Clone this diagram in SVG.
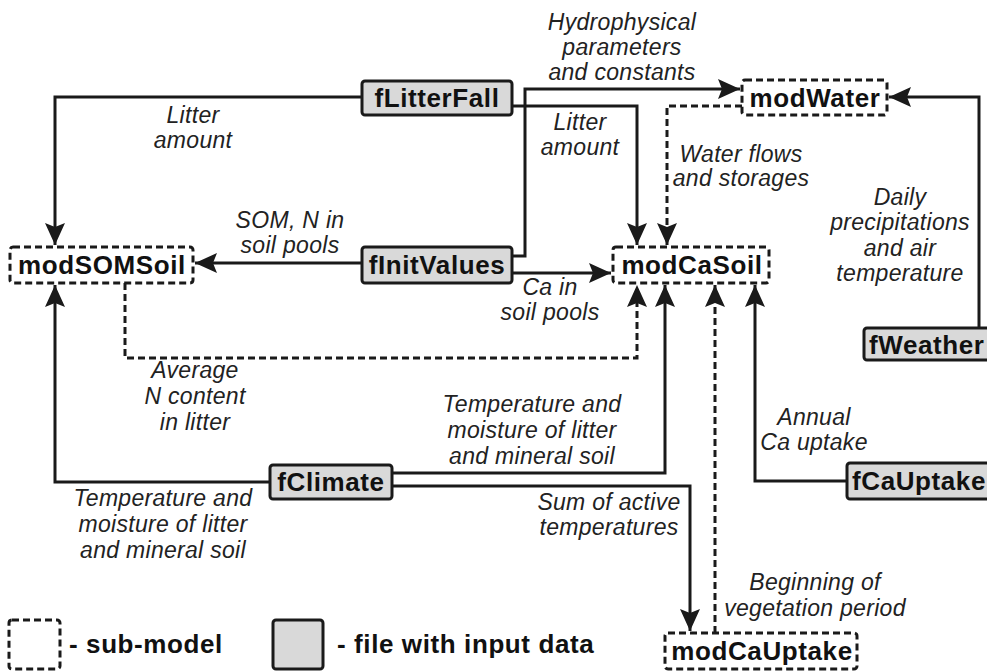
<svg xmlns="http://www.w3.org/2000/svg" width="987" height="671" viewBox="0 0 987 671">
<defs>
<style>
.file{fill:#d9d9d9;stroke:#1a1a1a;stroke-width:3}
.mod{fill:#fff;stroke:#1a1a1a;stroke-width:3;stroke-dasharray:7,4}
.name{font-family:"Liberation Sans",Arial,sans-serif;font-weight:bold;font-size:26px;letter-spacing:0.6px;fill:#111}
.lbl{font-family:"Liberation Sans",Arial,sans-serif;font-style:italic;font-size:23px;letter-spacing:0.3px;fill:#222;text-anchor:middle}
.c{fill:none;stroke:#1a1a1a;stroke-width:3}
.d{fill:none;stroke:#1a1a1a;stroke-width:3;stroke-dasharray:7,4}
</style>
<marker id="ah" markerUnits="userSpaceOnUse" markerWidth="24" markerHeight="22" refX="22" refY="10" orient="auto">
<path d="M0,0 L22,10 L0,20 L4,10 z" fill="#1a1a1a"/>
</marker>
</defs>
<rect width="987" height="671" fill="#fff"/>
<g id="connectors">
<path class="c" d="M362,97 H55 V245" marker-end="url(#ah)"/>
<path class="c" d="M512,106 H637 V245" marker-end="url(#ah)"/>
<path class="c" d="M512,256 H525 V89 H740" marker-end="url(#ah)"/>
<path class="c" d="M512,273 H611" marker-end="url(#ah)"/>
<path class="c" d="M362,263 H195" marker-end="url(#ah)"/>
<path class="d" d="M742,106 H667 V245" marker-end="url(#ah)"/>
<path class="c" d="M979,328 V97 H889" marker-end="url(#ah)"/>
<path class="d" d="M125,283 V358 H637 V285" marker-end="url(#ah)"/>
<path class="c" d="M270,482 H55 V285" marker-end="url(#ah)"/>
<path class="c" d="M392,473 H665 V285" marker-end="url(#ah)"/>
<path class="c" d="M392,486 H690 V631" marker-end="url(#ah)"/>
<path class="d" d="M715,633 V285" marker-end="url(#ah)"/>
<path class="c" d="M847,481 H755 V285" marker-end="url(#ah)"/>
</g>
<g id="fLitterFall"><rect class="file" x="362" y="81" width="150" height="34" rx="3"/><text class="name" x="437" y="107" text-anchor="middle">fLitterFall</text></g>
<g id="modWater"><rect class="mod" x="742" y="80" width="145" height="35" rx="3"/><text class="name" x="815" y="107" text-anchor="middle">modWater</text></g>
<g id="modSOMSoil"><rect class="mod" x="10" y="247" width="183" height="36" rx="3"/><text class="name" x="102" y="274" text-anchor="middle">modSOMSoil</text></g>
<g id="fInitValues"><rect class="file" x="362" y="247" width="150" height="36" rx="3"/><text class="name" x="437" y="274" text-anchor="middle">fInitValues</text></g>
<g id="modCaSoil"><rect class="mod" x="613" y="247" width="156" height="36" rx="3"/><text class="name" x="692" y="274" text-anchor="middle">modCaSoil</text></g>
<g id="fWeather"><rect class="file" x="864" y="328" width="130" height="32" rx="3"/><text class="name" x="869" y="354">fWeather</text></g>
<g id="fClimate"><rect class="file" x="270" y="465" width="122" height="34" rx="3"/><text class="name" x="331" y="491" text-anchor="middle">fClimate</text></g>
<g id="fCaUptake"><rect class="file" x="847" y="463" width="145" height="36" rx="3"/><text class="name" x="852" y="490">fCaUptake</text></g>
<g id="modCaUptake"><rect class="mod" x="665" y="633" width="192" height="36" rx="3"/><text class="name" x="762" y="660" text-anchor="middle">modCaUptake</text></g>
<g id="labels">
<text class="lbl" x="193" y="123">Litter</text><text class="lbl" x="193" y="148">amount</text>
<text class="lbl" x="622" y="30">Hydrophysical</text><text class="lbl" x="622" y="55">parameters</text><text class="lbl" x="622" y="80">and constants</text>
<text class="lbl" x="580" y="130">Litter</text><text class="lbl" x="580" y="155">amount</text>
<text class="lbl" x="741" y="162">Water flows</text><text class="lbl" x="741" y="186">and storages</text>
<text class="lbl" x="900" y="205">Daily</text><text class="lbl" x="900" y="230">precipitations</text><text class="lbl" x="900" y="256">and air</text><text class="lbl" x="900" y="281">temperature</text>
<text class="lbl" x="290" y="228">SOM, N in</text><text class="lbl" x="290" y="253">soil pools</text>
<text class="lbl" x="550" y="295">Ca in</text><text class="lbl" x="550" y="320">soil pools</text>
<text class="lbl" x="195" y="378">Average</text><text class="lbl" x="195" y="404">N content</text><text class="lbl" x="195" y="430">in litter</text>
<text class="lbl" x="532" y="412">Temperature and</text><text class="lbl" x="532" y="438">moisture of litter</text><text class="lbl" x="532" y="464">and mineral soil</text>
<text class="lbl" x="163" y="506">Temperature and</text><text class="lbl" x="163" y="532">moisture of litter</text><text class="lbl" x="163" y="558">and mineral soil</text>
<text class="lbl" x="609" y="510">Sum of active</text><text class="lbl" x="609" y="535">temperatures</text>
<text class="lbl" x="814" y="425">Annual</text><text class="lbl" x="814" y="450">Ca uptake</text>
<text class="lbl" x="815" y="590">Beginning of</text><text class="lbl" x="815" y="616">vegetation period</text>
</g>
<g id="legend">
<rect class="mod" x="9" y="620" width="51" height="49" rx="3"/>
<text class="name" x="69" y="653">- sub-model</text>
<rect class="file" x="273" y="620" width="50" height="49" rx="3"/>
<text class="name" x="337" y="653">- file with input data</text>
</g>
</svg>
